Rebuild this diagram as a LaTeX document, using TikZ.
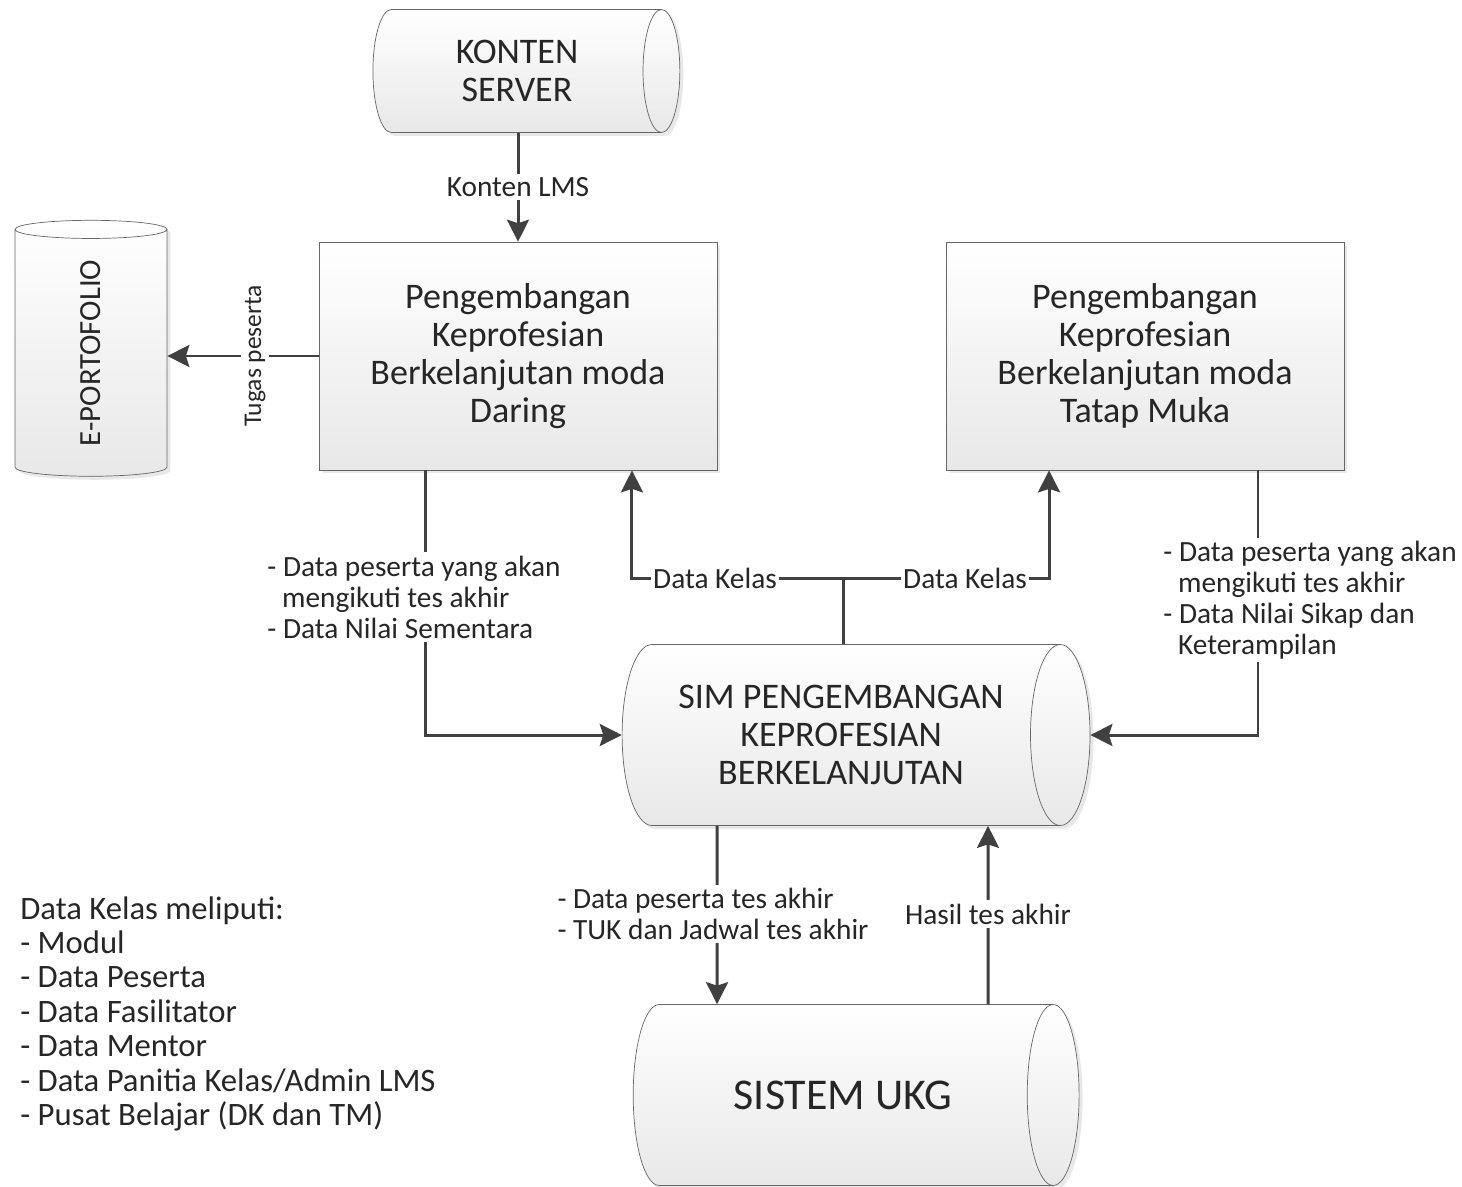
\documentclass[tikz,border=0pt]{standalone}
\usepackage{fontspec}
\setmainfont{Carlito}
\usetikzlibrary{arrows.meta, positioning, shapes.geometric, shadows}
\definecolor{linegray}{HTML}{404040}
\definecolor{textgray}{HTML}{262626}

\begin{document}
\begin{tikzpicture}[
  x=0.02cm, y=-0.02cm,
  every node/.style={text=textgray},
  shade/.style={draw=black!60, top color=white, bottom color=black!9,
    drop shadow={shadow xshift=0.07cm, shadow yshift=-0.07cm, opacity=0.18}},
  box/.style={shade, minimum width=7.96cm, minimum height=4.56cm, align=center,
    font=\fontsize{20.5}{21.5}\selectfont},
  store/.style={shade, cylinder, aspect=0.6, align=center, inner sep=0pt,
    font=\fontsize{20.5}{21.5}\selectfont},
  arrow/.style={-{Stealth[length=0.44cm, width=0.44cm, inset=0.07cm]}, line width=1.7pt, linegray},
  flow/.style={line width=1.7pt, linegray},
  lbl/.style={fill=white, inner xsep=1pt, inner ysep=2pt, align=left,
    font=\fontsize{16.7}{17.6}\selectfont}
]
\useasboundingbox (0,0) rectangle (1462,1186);

\node[store, minimum height=6.14cm, minimum width=2.46cm] (server) at (517,71) {KONTEN\\SERVER};
\node[box] (daring) at (518,356) {Pengembangan\\Keprofesian\\Berkelanjutan moda\\Daring};
\node[box] (tatap) at (1145,356) {Pengembangan\\Keprofesian\\Berkelanjutan moda\\Tatap Muka};
\node[store, rotate=90, aspect=0.9, minimum height=5.12cm, minimum width=3.04cm,
  font=\fontsize{17.5}{19}\selectfont] (porto) at (91,353) {E-PORTOFOLIO};
\node[store, minimum height=9.36cm, minimum width=3.62cm] (sim) at (841,735)
  {SIM PENGEMBANGAN\\KEPROFESIAN\\BERKELANJUTAN};
\node[store, aspect=1.8, minimum height=8.92cm, minimum width=3.62cm,
  font=\fontsize{25}{28}\selectfont] (ukg) at (843,1095) {SISTEM UKG};

\coordinate (split) at (843,578);

\draw[arrow] (daring.north |- server.south) -- (daring.north)
  node[lbl, midway] (konten) {Konten LMS};
\draw[arrow] (daring.west) -- (daring.west -| porto.south)
  node[lbl, pos=0.42, rotate=90, font=\fontsize{14.5}{16}\selectfont] (tugas) {Tugas peserta};
\draw[arrow] ([xshift=-1.86cm]daring.south) |- (sim.west);
\draw[flow] (split |- sim.north) -- (split);
\draw[arrow] (split) -| ([xshift=2.28cm]daring.south);
\draw[arrow] (split) -| ([xshift=-1.92cm]tatap.south);
\draw[arrow] ([xshift=2.26cm]tatap.south) |- (sim.east);
\draw[arrow] ([xshift=-2.48cm]sim.south) -- ([xshift=-2.52cm]ukg.north);
\draw[arrow] ([xshift=2.90cm]ukg.north) -- ([xshift=2.94cm]sim.south);

\node[lbl] (kelasA) at (715,578) {Data Kelas};
\node[lbl] (kelasB) at (965,578) {Data Kelas};
\node[lbl] (ikutA) at (414,597) {- Data peserta yang akan\\\hspace{0.5em}mengikuti tes akhir\\- Data Nilai Sementara};
\node[lbl] (ikutB) at (1310,600) {- Data peserta yang akan\\\hspace{0.5em}mengikuti tes akhir\\- Data Nilai Sikap dan\\\hspace{0.5em}Keterampilan};
\node[lbl] (tesakhir) at (713,914) {- Data peserta tes akhir\\- TUK dan Jadwal tes akhir};
\node[lbl] (hasil) at (988,914) {Hasil tes akhir};

\node[anchor=north west, inner sep=0pt, align=left, font=\fontsize{18.6}{19.6}\selectfont] (legend) at (20,896)
  {Data Kelas meliputi:\\- Modul\\- Data Peserta\\- Data Fasilitator\\- Data Mentor\\- Data Panitia Kelas/Admin LMS\\- Pusat Belajar (DK dan TM)};
\end{tikzpicture}
\end{document}
